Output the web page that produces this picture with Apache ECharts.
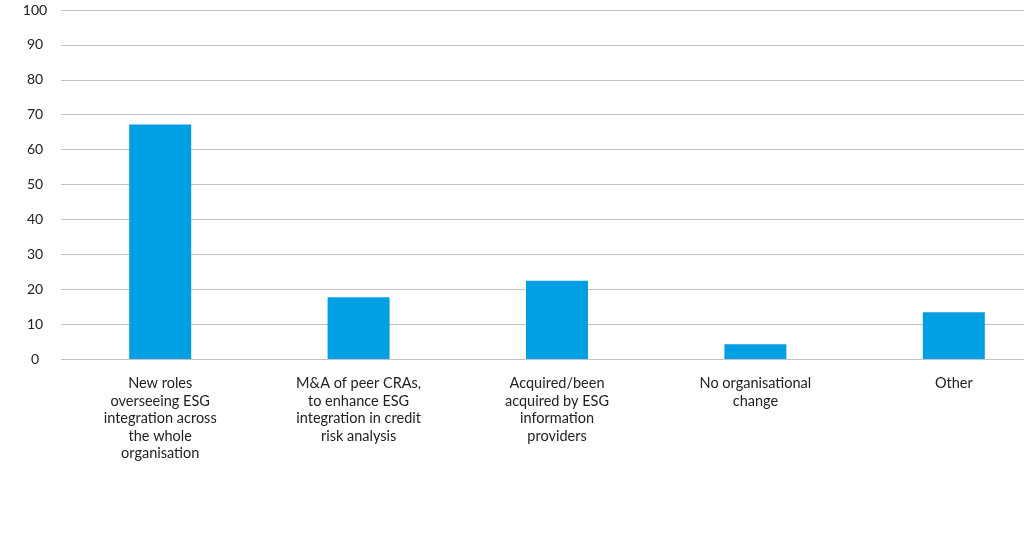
<!DOCTYPE html>
<html><head><meta charset="utf-8">
<script src="https://cdn.jsdelivr.net/npm/echarts@6/dist/echarts.min.js"></script>
<style>html,body{margin:0;padding:0;background:#fff}#c{width:1024px;height:536px}</style>
</head><body><div id="c"></div>
<script>
const categories = [
  "New roles\noverseeing ESG\nintegration across\nthe whole\norganisation",
  "M&A of peer CRAs,\nto enhance ESG\nintegration in credit\nrisk analysis",
  "Acquired/been\nacquired by ESG\ninformation\nproviders",
  "No organisational\nchange",
  "Other"
];
const values = [67.2, 17.7, 22.4, 4.2, 13.4];
const yTicks = { min: 0, max: 100, interval: 10 };

const chart = echarts.init(document.getElementById('c'));
chart.setOption({
  animation: false,
  grid: { left: 61, top: 10, width: 992, height: 349, containLabel: false, outerBoundsMode: 'none' },
  xAxis: {
    type: 'category', data: categories,
    axisLine: { show: false }, axisTick: { show: false },
    axisLabel: { interval: 0, margin: 16, fontFamily: 'Lato', fontSize: 14.5, lineHeight: 17.4, color: '#222', align: 'center' }
  },
  yAxis: {
    type: 'value', min: yTicks.min, max: yTicks.max, interval: yTicks.interval,
    axisLine: { show: false }, axisTick: { show: false },
    axisLabel: { margin: 26, align: 'center', fontFamily: 'Lato', fontSize: 14, color: '#222' },
    splitLine: { lineStyle: { color: '#c2c2c2', width: 1.2 } }
  },
  series: [{
    type: 'bar', data: values, barWidth: 62,
    itemStyle: { color: '#009ee2' }
  }]
});
</script></body></html>
